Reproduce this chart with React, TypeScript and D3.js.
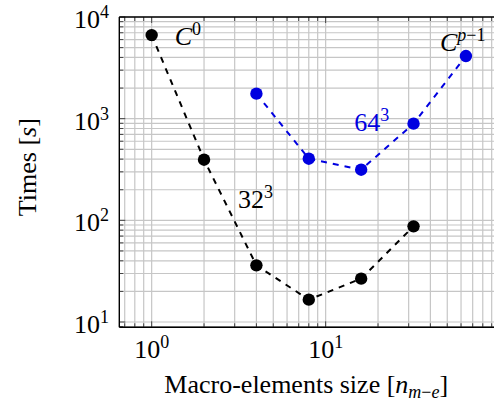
import React from "react";
import * as d3 from "d3";

const sizes32 = [1, 2, 4, 8, 16, 32];
const times32 = [6640, 395, 36.1, 16.6, 26.7, 87.3];
const sizes64 = [4, 8, 16, 32, 64];
const times64 = [1762, 404, 315, 893, 4128];
const xMajorTicks = [1, 10];
const yMajorTicks = [10, 100, 1000, 10000];
const xTickExp = ["0", "1"];
const yTickExp = ["1", "2", "3", "4"];
const minorMultiples = [2, 3, 4, 5, 6, 7, 8, 9];
const xDecades = [0.1, 1, 10];
const yDecades = [1, 10, 100, 1000];

const W = 494;
const H = 406;
const FONT = "'Liberation Serif', 'DejaVu Serif', serif";
const FS = 26;
const SUP = 18;
const BLUE = "#0000e0";

export default function App() {
  const left = 119.3, right = 497.2, top = 17, bottom = 327.3;
  const x = d3.scaleLog().domain([Math.pow(10, -0.186), Math.pow(10, 1.986)]).range([left, right]);
  const y = d3.scaleLog().domain([Math.pow(10, 0.948), 1e4]).range([bottom, top]);

  const inX = (v: number) => v >= x.domain()[0] && v <= x.domain()[1];
  const inY = (v: number) => v >= y.domain()[0] && v <= y.domain()[1];
  const xMinor = xDecades.flatMap((d) => minorMultiples.map((m) => m * d)).filter(inX);
  const yMinor = yDecades.flatMap((d) => minorMultiples.map((m) => m * d)).filter(inY);
  const xAll = [...xMinor, ...xMajorTicks];
  const yAll = [...yMinor, ...yMajorTicks];

  const line = d3.line<[number, number]>().x((d) => x(d[0])).y((d) => y(d[1]));
  const d32 = line(sizes32.map((s, i) => [s, times32[i]] as [number, number])) || "";
  const d64 = line(sizes64.map((s, i) => [s, times64[i]] as [number, number])) || "";

  const gridColor = "#c6c6c6";
  const tickColor = "#444";

  return (
    <div style={{ position: "absolute", left: 0, top: 0 }}>
      <svg width={W} height={H} style={{ display: "block", background: "#fff" }} fontFamily={FONT}>
        <defs>
          <clipPath id="plotclip">
            <rect x={left} y={top} width={right - left} height={bottom - top} />
          </clipPath>
        </defs>
        <g stroke={gridColor} strokeWidth={1.2}>
          {xAll.map((v, i) => (
            <line key={"gx" + i} x1={x(v)} x2={x(v)} y1={top} y2={bottom} />
          ))}
          {yAll.map((v, i) => (
            <line key={"gy" + i} x1={left} x2={right} y1={y(v)} y2={y(v)} />
          ))}
        </g>
        <g stroke={tickColor} strokeWidth={1}>
          {xMinor.map((v, i) => (
            <g key={"tx" + i}>
              <line x1={x(v)} x2={x(v)} y1={bottom} y2={bottom - 4} />
              <line x1={x(v)} x2={x(v)} y1={top} y2={top + 4} />
            </g>
          ))}
          {xMajorTicks.map((v, i) => (
            <g key={"txM" + i}>
              <line x1={x(v)} x2={x(v)} y1={bottom} y2={bottom - 6} />
              <line x1={x(v)} x2={x(v)} y1={top} y2={top + 6} />
            </g>
          ))}
          {yMinor.map((v, i) => (
            <line key={"ty" + i} x1={left} x2={left + 4} y1={y(v)} y2={y(v)} />
          ))}
          {yMajorTicks.map((v, i) => (
            <line key={"tyM" + i} x1={left} x2={left + 6} y1={y(v)} y2={y(v)} />
          ))}
        </g>
        <g stroke="#000" strokeWidth={1.4} fill="none">
          <line x1={left} x2={right} y1={top} y2={top} />
          <line x1={left} x2={right} y1={bottom} y2={bottom} />
          <line x1={left} x2={left} y1={top} y2={bottom} />
          <line x1={right} x2={right} y1={top} y2={bottom} />
        </g>
        <g clipPath="url(#plotclip)">
          <path d={d32} fill="none" stroke="#000" strokeWidth={2} strokeDasharray="6 6" />
          <path d={d64} fill="none" stroke={BLUE} strokeWidth={2} strokeDasharray="6 6" />
          {sizes32.map((s, i) => (
            <circle key={"p32" + i} cx={x(s)} cy={y(times32[i])} r={6.2} fill="#000" />
          ))}
          {sizes64.map((s, i) => (
            <circle key={"p64" + i} cx={x(s)} cy={y(times64[i])} r={6.2} fill={BLUE} />
          ))}
        </g>
        <g fontSize={FS} fill="#000">
          {xMajorTicks.map((v, i) => (
            <text key={"xl" + i} x={x(v)} y={358} textAnchor="middle">
              10<tspan dy={-10} fontSize={SUP}>{xTickExp[i]}</tspan>
            </text>
          ))}
          {yMajorTicks.map((v, i) => (
            <text key={"yl" + i} x={109} y={y(v) + 11} textAnchor="end">
              10<tspan dy={-10} fontSize={SUP}>{yTickExp[i]}</tspan>
            </text>
          ))}
        </g>
        <text x={(left + right) / 2 - 2} y={393} textAnchor="middle" fontSize={FS}>
          Macro-elements size [<tspan fontStyle="italic">n</tspan>
          <tspan dy={5} fontSize={SUP}>
            <tspan fontStyle="italic">m</tspan>−<tspan fontStyle="italic">e</tspan>
          </tspan>
          <tspan dy={-5}>]</tspan>
        </text>
        <text transform={`translate(36, ${(top + bottom) / 2 - 5}) rotate(-90)`} textAnchor="middle" fontSize={FS}>
          Times [<tspan fontStyle="italic">s</tspan>]
        </text>
        <text x={x(sizes32[0]) + 23} y={y(times32[0]) + 10} fontSize={FS}>
          <tspan fontStyle="italic">C</tspan>
          <tspan dy={-10} fontSize={SUP}>0</tspan>
        </text>
        <text x={x(sizes32[1]) + 34} y={y(times32[1]) + 48} fontSize={FS}>
          32<tspan dy={-10} fontSize={SUP}>3</tspan>
        </text>
        <text x={x(sizes64[2]) - 7} y={y(times64[2]) - 39} fontSize={FS} fill={BLUE}>
          64<tspan dy={-10} fontSize={SUP}>3</tspan>
        </text>
        <text x={x(sizes64[4]) - 26} y={y(times64[4]) - 5} fontSize={FS}>
          <tspan fontStyle="italic">C</tspan>
          <tspan dy={-10} fontSize={SUP}>
            <tspan fontStyle="italic">p</tspan>−1
          </tspan>
        </text>
      </svg>
    </div>
  );
}
